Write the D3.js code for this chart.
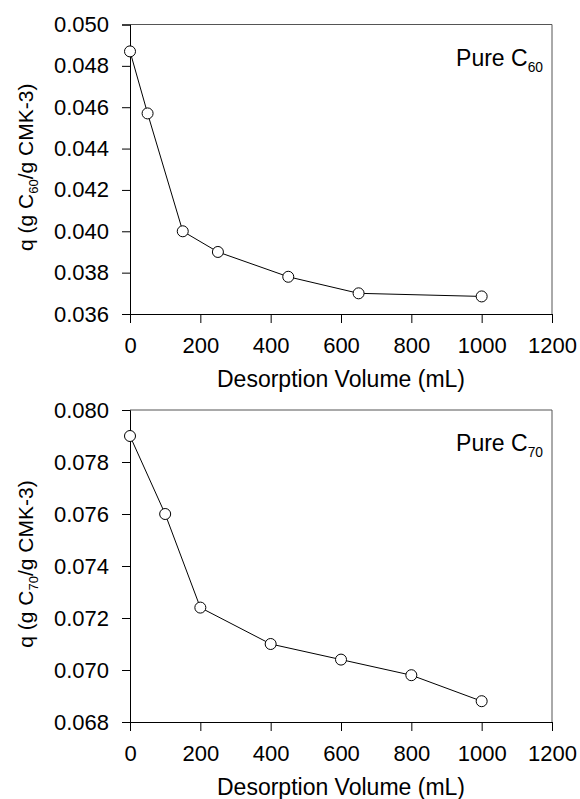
<!DOCTYPE html>
<html><head><meta charset="utf-8">
<script src="https://cdn.jsdelivr.net/npm/d3@7"></script>
<style>
html,body{margin:0;padding:0;background:#fff;}
svg text{font-family:Arial,"Liberation Sans",Helvetica,sans-serif;fill:#000;}
</style></head>
<body><svg id="c" width="580" height="799"></svg>
<script>
// ---- data ----
const volC60 = [0, 50, 150, 250, 450, 650, 1000];
const qC60   = [0.0487, 0.0457, 0.0400, 0.0390, 0.0378, 0.0370, 0.03685];
const volC70 = [0, 100, 200, 400, 600, 800, 1000];
const qC70   = [0.0790, 0.0760, 0.0724, 0.0710, 0.0704, 0.0698, 0.0688];
const xTicks = [0, 200, 400, 600, 800, 1000, 1200];
const yTicksC60 = [0.036, 0.038, 0.040, 0.042, 0.044, 0.046, 0.048, 0.050];
const yTicksC70 = [0.068, 0.070, 0.072, 0.074, 0.076, 0.078, 0.080];
const xTitle = "Desorption Volume (mL)";

const svg = d3.select("#c");
const FS_TICK = 22, FS_TITLE = 23, FS_Y = 21, FS_LBL = 23;

function panel(cfg){
  const {top, bottom, xs, ys, yDomain, yTicks, sub} = cfg;
  const left = 130, right = 552;
  const x = d3.scaleLinear().domain([0,1200]).range([left,right]);
  const y = d3.scaleLinear().domain(yDomain).range([bottom,top]);
  const g = svg.append("g");
  g.append("line").attr("x1",left).attr("x2",right).attr("y1",top).attr("y2",top).attr("stroke","#555").attr("stroke-width",1);
  g.append("line").attr("x1",right).attr("x2",right).attr("y1",top).attr("y2",bottom).attr("stroke","#555").attr("stroke-width",1);
  const xa = g.append("g").attr("transform",`translate(0,${bottom})`)
    .call(d3.axisBottom(x).tickValues(xTicks).tickSize(9).tickPadding(14).tickFormat(d3.format("d")));
  const ya = g.append("g").attr("transform",`translate(${left},0)`)
    .call(d3.axisLeft(y).tickValues(yTicks).tickSize(8).tickPadding(13).tickFormat(d3.format(".3f")));
  [xa,ya].forEach(a=>{
    a.select(".domain").attr("stroke","#000").attr("stroke-width",1);
    a.selectAll(".tick line").attr("stroke","#000");
    a.selectAll("text").attr("font-size",FS_TICK).attr("font-family","Arial,'Liberation Sans',sans-serif").attr("fill","#000");
  });
  xa.selectAll("text").attr("dy","0.71em");
  const pts = xs.map((v,i)=>[v, ys[i]]);
  g.append("path").datum(pts)
    .attr("d", d3.line().x(d=>x(d[0])).y(d=>y(d[1])))
    .attr("fill","none").attr("stroke","#000").attr("stroke-width",1);
  g.selectAll("circle.m").data(pts).enter().append("circle")
    .attr("cx",d=>x(d[0])).attr("cy",d=>y(d[1])).attr("r",5.5)
    .attr("fill","#fff").attr("stroke","#000").attr("stroke-width",1);
  g.append("text").attr("x",(left+right)/2).attr("y",bottom+73)
    .attr("text-anchor","middle").attr("font-size",FS_TITLE).text(xTitle);
  const yt = g.append("text").attr("transform",`translate(33,${(top+bottom)/2 - 2}) rotate(-90)`)
    .attr("text-anchor","middle").attr("font-size",FS_Y);
  yt.append("tspan").text("q (g C");
  yt.append("tspan").attr("font-size",FS_Y*0.62).attr("dy",5).text(sub);
  yt.append("tspan").attr("dy",-5).text("/g CMK-3)");
  const lb = g.append("text").attr("x",right-9).attr("y",top+41).attr("text-anchor","end").attr("font-size",FS_LBL);
  lb.append("tspan").text("Pure C");
  lb.append("tspan").attr("font-size",FS_LBL*0.6).attr("dy",6).text(sub);
}

panel({top:24.5, bottom:314, xs:volC60, ys:qC60, yDomain:[0.036,0.050], yTicks:yTicksC60, sub:"60"});
panel({top:410, bottom:722, xs:volC70, ys:qC70, yDomain:[0.068,0.080], yTicks:yTicksC70, sub:"70"});
</script></body></html>
